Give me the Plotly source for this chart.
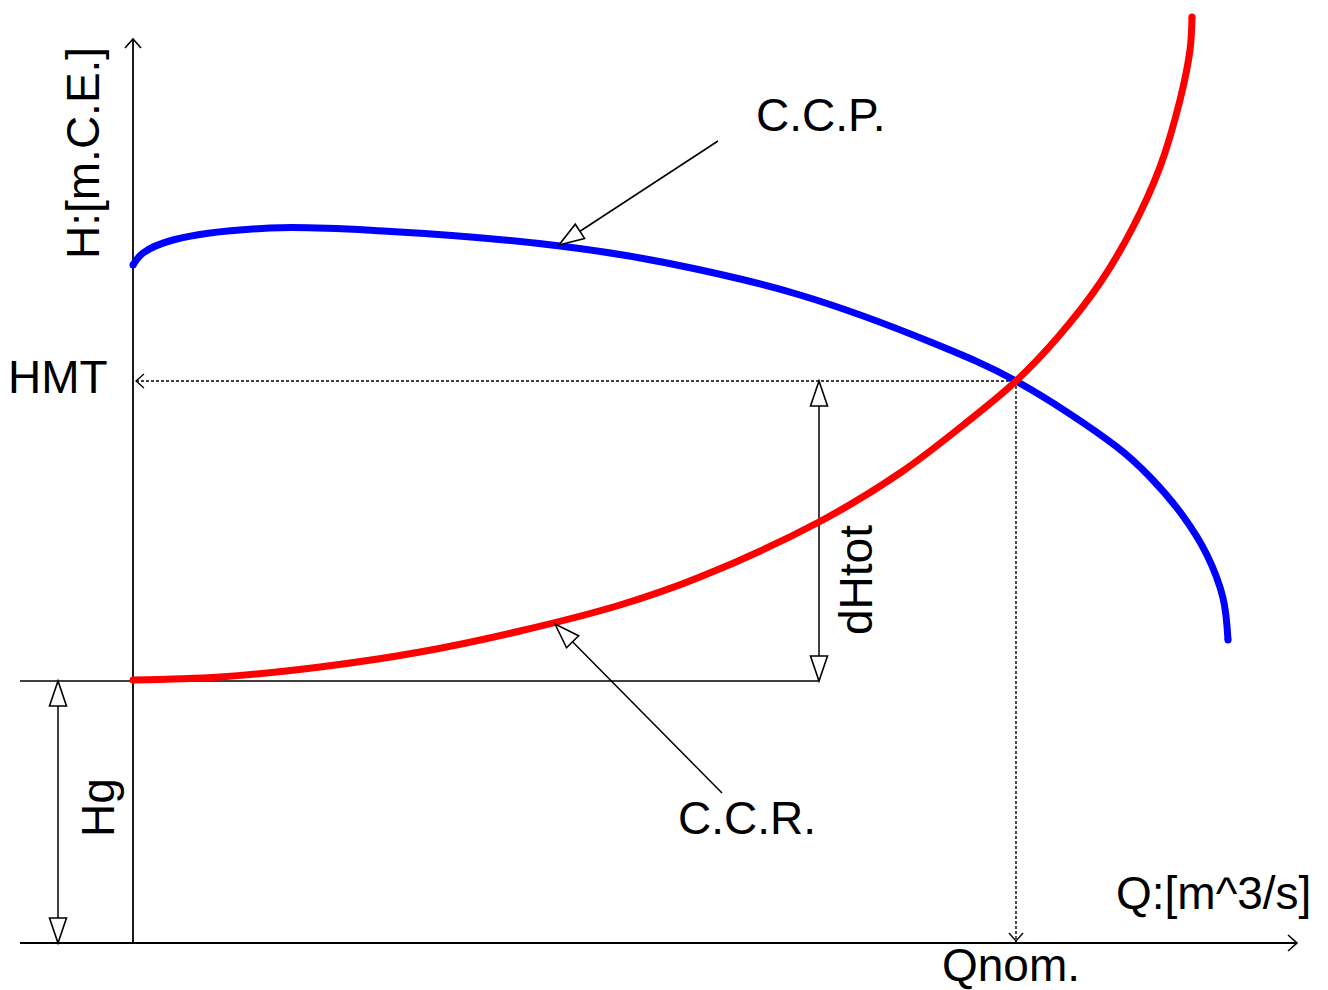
import math
import plotly.graph_objects as go

# Pump characteristic (C.C.P.) and system curve (C.C.R.), Q vs H in drawing units
ccp_q = [0, 10, 40, 137, 250, 427, 534, 667, 800, 883, 984, 1017, 1050, 1074, 1090, 1095]
ccp_h = [678, 690, 703, 715, 712, 697, 680, 648, 600, 562, 496, 466, 427, 388, 345, 303]

ccr_q = [0, 87, 187, 287, 387, 487, 567, 686, 767, 834, 883, 925, 967, 1000, 1027, 1047, 1057, 1059]
ccr_h = [263, 266, 276, 291, 312, 338, 366, 421, 470, 521, 562, 606, 660, 716, 776, 843, 893, 926]

# Operating point and reference levels
q_nom = 883
h_mt = 562
h_g = 262
dh_q = 686          # abscissa of the dHtot dimension line
hg_q = -75          # abscissa of the Hg dimension line

# Axis extents
x_min, x_max = -113, 1164
y_max = 904

labels = {
    "y_axis": "H:[m.C.E.]",
    "x_axis": "Q:[m^3/s]",
    "hmt": "HMT",
    "qnom": "Qnom.",
    "ccp": "C.C.P.",
    "ccr": "C.C.R.",
    "dhtot": "dHtot",
    "hg": "Hg",
}

FONT = "Liberation Sans, Arial, sans-serif"
FS = 46

fig = go.Figure()

fig.add_trace(go.Scatter(x=ccp_q, y=ccp_h, mode="lines",
                         line=dict(color="#0000ff", width=7, shape="spline", smoothing=1.0),
                         hoverinfo="skip"))
fig.add_trace(go.Scatter(x=ccr_q, y=ccr_h, mode="lines",
                         line=dict(color="#ff0000", width=7, shape="spline", smoothing=1.0),
                         hoverinfo="skip"))
# rounded line ends
fig.add_trace(go.Scatter(x=[ccp_q[0], ccp_q[-1]], y=[ccp_h[0], ccp_h[-1]], mode="markers",
                         marker=dict(color="#0000ff", size=7, line=dict(width=0)), hoverinfo="skip"))
fig.add_trace(go.Scatter(x=[ccr_q[0], ccr_q[-1]], y=[ccr_h[0], ccr_h[-1]], mode="markers",
                         marker=dict(color="#ff0000", size=7, line=dict(width=0)), hoverinfo="skip"))

shapes = []


def seg(x0, y0, x1, y1, width=1.6, dash="solid"):
    shapes.append(dict(type="line", x0=x0, y0=y0, x1=x1, y1=y1, layer="below",
                       line=dict(color="black", width=width, dash=dash)))


def chevron(tx, ty, dx, dy, length=9, half=8, width=1.6):
    n = math.hypot(dx, dy)
    ux, uy = dx / n, dy / n
    px, py = -uy, ux
    bx, by = tx - ux * length, ty - uy * length
    path = (f"M {bx + px * half},{by + py * half} L {tx},{ty} "
            f"L {bx - px * half},{by - py * half}")
    shapes.append(dict(type="path", path=path, layer="above",
                       line=dict(color="black", width=width)))


def hollow_tri(tx, ty, dx, dy, length=25, half=8.5, width=1.6):
    n = math.hypot(dx, dy)
    ux, uy = dx / n, dy / n
    px, py = -uy, ux
    bx, by = tx - ux * length, ty - uy * length
    path = (f"M {tx},{ty} L {bx + px * half},{by + py * half} "
            f"L {bx - px * half},{by - py * half} Z")
    shapes.append(dict(type="path", path=path, fillcolor="white", layer="above",
                       line=dict(color="black", width=width)))


# axes
seg(x_min, 0, x_max, 0, width=1.8)
seg(0, 0, 0, y_max, width=1.8)
chevron(x_max, 0, 1, 0)
chevron(0, y_max, 0, 1)

# static head reference line
seg(x_min, h_g, dh_q, h_g, width=1.4)

# operating point projections
seg(3, h_mt, q_nom, h_mt, width=1.4, dash="3px,2px")
seg(q_nom, h_mt, q_nom, 1, width=1.4, dash="3px,2px")
chevron(3, h_mt, -1, 0, length=8, half=7, width=1.3)
chevron(q_nom, 2, 0, -1, length=8, half=7, width=1.3)

# dHtot dimension
seg(dh_q, h_g, dh_q, h_mt, width=1.5)
hollow_tri(dh_q, h_mt, 0, 1)
hollow_tri(dh_q, h_g, 0, -1)

# Hg dimension
seg(hg_q, 0, hg_q, h_g, width=1.5)
hollow_tri(hg_q, h_g, 0, 1)
hollow_tri(hg_q, 0, 0, -1)

# leaders to the curve labels
ccp_tip = (426, 698)
ccr_tip = (422, 319)
seg(585, 802, ccp_tip[0], ccp_tip[1], width=1.5)
hollow_tri(ccp_tip[0], ccp_tip[1], ccp_tip[0] - 585, ccp_tip[1] - 802)
seg(589, 150, ccr_tip[0], ccr_tip[1], width=1.5)
hollow_tri(ccr_tip[0], ccr_tip[1], ccr_tip[0] - 589, ccr_tip[1] - 150)

annotations = []


def label(text, x, y, angle=0):
    annotations.append(dict(text=text, x=x, y=y, xref="x", yref="y", showarrow=False,
                            textangle=angle, xanchor="center", yanchor="middle",
                            font=dict(family=FONT, size=FS, color="black")))


label(labels["y_axis"], -50, 790, angle=-90)
label(labels["hmt"], -75, h_mt + 4)
label(labels["ccp"], 688, 828)
label(labels["ccr"], 614, 125)
label(labels["x_axis"], 1080, 50)
label(labels["qnom"], 878, -22)
label(labels["dhtot"], 723, 363, angle=-90)
label(labels["hg"], -35, 135, angle=-90)

fig.update_layout(
    width=1328, height=990,
    margin=dict(l=0, r=0, t=0, b=0),
    paper_bgcolor="white", plot_bgcolor="white",
    showlegend=False,
    shapes=shapes, annotations=annotations,
    xaxis=dict(range=[-133, 1195], visible=False, fixedrange=True),
    yaxis=dict(range=[-47, 943], visible=False, fixedrange=True),
)

fig.write_html("out.html")
